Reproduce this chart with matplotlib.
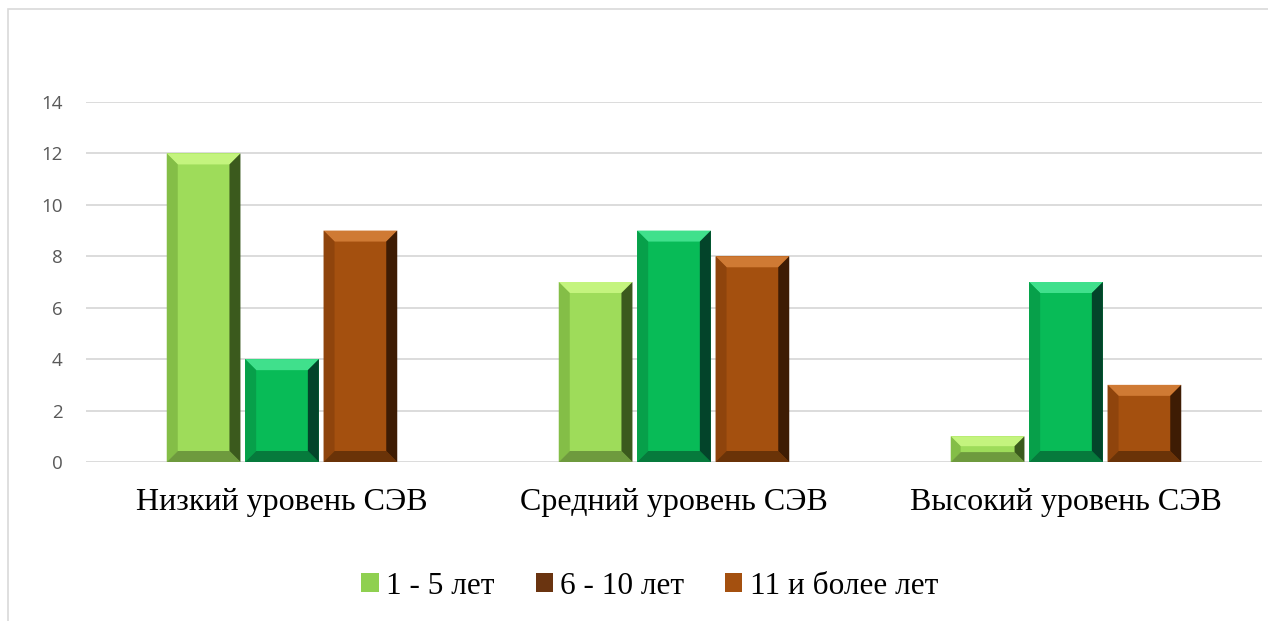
import matplotlib
matplotlib.use("Agg")
import matplotlib.pyplot as plt
from matplotlib.patches import Polygon, Rectangle, Patch
import numpy as np

categories = ["Низкий уровень СЭВ", "Средний уровень СЭВ", "Высокий уровень СЭВ"]
series_names = ["1 - 5 лет", "6 - 10 лет", "11 и более лет"]
s1 = [12, 7, 1]
s2 = [4, 9, 7]
s3 = [9, 8, 3]
yticks = [0, 2, 4, 6, 8, 10, 12, 14]

face = ["#9edc5a", "#08bb57", "#a4500f"]
top_c = ["#c4f47e", "#40e08c", "#cf7a34"]
left_c = ["#84be47", "#07a04a", "#8f440c"]
right_c = ["#3b5a1d", "#03442a", "#3e1c04"]
bottom_c = ["#6e9a3e", "#067a3c", "#6a3308"]
legend_c = ["#8fd050", "#6a3410", "#a4500f"]

W, H = 1268, 621
fig = plt.figure(figsize=(W / 100, H / 100), dpi=100)
fig.patch.set_facecolor("white")

# outer chart frame
fig.add_artist(Rectangle((8 / W, -0.2), 1.2, 1.2 - 9 / H, transform=fig.transFigure,
                         fill=False, edgecolor="#d9d9d9", linewidth=1.2))

ax = fig.add_axes([86 / W, 1 - 462 / H, (1262 - 86) / W, (462 - 102) / H])
ax.set_xlim(-0.5, 2.5)
ax.set_ylim(0, 14)
ax.set_yticks(yticks)
ax.set_yticklabels([str(t) for t in yticks], fontsize=13.5, color="#595959", family="Open Sans")
ax.tick_params(axis="y", length=0, pad=17)
ax.tick_params(axis="x", length=0, pad=19)
ax.set_xticks(range(len(categories)))
ax.set_xticklabels(categories, fontsize=23, family="Liberation Serif", color="black")
for sp in ax.spines.values():
    sp.set_visible(False)
ax.grid(axis="y", color="#d9d9d9", linewidth=1.3)
ax.set_axisbelow(True)

x = np.arange(len(categories))
bw = 0.188
step = 0.2
all_bars = []
for i, vals in enumerate([s1, s2, s3]):
    bars = ax.bar(x + (i - 1) * step, vals, bw, color=face[i], linewidth=0, zorder=2)
    all_bars.append(bars)

fig.canvas.draw()
inv = ax.transData.inverted()
for i, bars in enumerate(all_bars):
    for r in bars:
        xa, ya = r.get_x(), r.get_y()
        xb, yb = xa + r.get_width(), ya + r.get_height()
        (X0, Y0), (X1, Y1) = ax.transData.transform([(xa, ya), (xb, yb)])
        b = min(11, (Y1 - Y0) / 2.6)
        polys = {
            "top": [(X0, Y1), (X1, Y1), (X1 - b, Y1 - b), (X0 + b, Y1 - b)],
            "left": [(X0, Y0), (X0, Y1), (X0 + b, Y1 - b), (X0 + b, Y0 + b)],
            "bottom": [(X0, Y0), (X1, Y0), (X1 - b, Y0 + b), (X0 + b, Y0 + b)],
            "right": [(X1, Y0), (X1, Y1), (X1 - b, Y1 - b), (X1 - b, Y0 + b)],
        }
        cols = {"top": top_c[i], "left": left_c[i], "bottom": bottom_c[i], "right": right_c[i]}
        for k in ["top", "left", "bottom", "right"]:
            pts = inv.transform(polys[k])
            ax.add_patch(Polygon(pts, closed=True, facecolor=cols[k], edgecolor="none", zorder=3))

handles = [Patch(facecolor=legend_c[i], edgecolor="none") for i in range(3)]
leg = fig.legend(handles, series_names, loc="center", bbox_to_anchor=(650 / W, 1 - 586 / H),
                 ncol=3, frameon=False, prop={"family": "Liberation Serif", "size": 22.5},
                 handlelength=0.55, handleheight=0.55, handletextpad=0.25, columnspacing=1.3)

fig.savefig("out.png", dpi=100, facecolor="white")
